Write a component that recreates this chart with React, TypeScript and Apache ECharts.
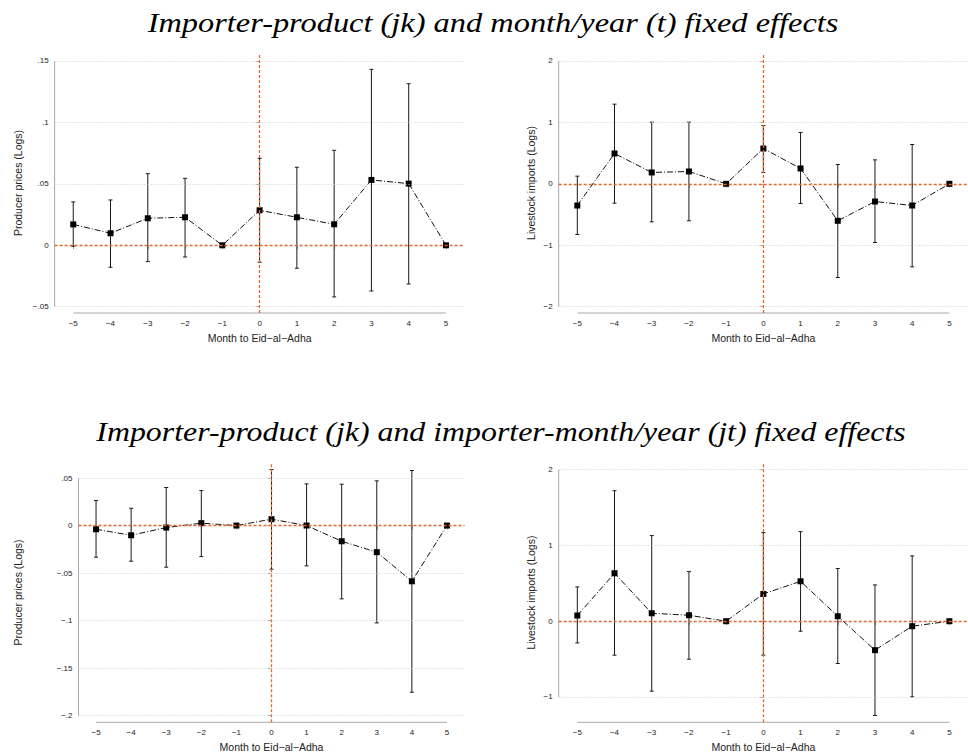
import React, { useEffect, useRef } from "react";
import * as echarts from "echarts";

// ---- Data ----
const months = [-5, -4, -3, -2, -1, 0, 1, 2, 3, 4, 5];

// Panel 1: jk + t FE, producer prices
const p1Coef = [0.017, 0.0098, 0.022, 0.0228, 0, 0.0285, 0.0228, 0.0171, 0.0532, 0.0502, 0];
const p1Lo = [-0.0008, -0.0179, -0.0133, -0.0095, null, -0.0138, -0.0187, -0.042, -0.0372, -0.0315, null];
const p1Hi = [0.0353, 0.0369, 0.0583, 0.0545, null, 0.0708, 0.0635, 0.0773, 0.1432, 0.1315, null];

// Panel 2: jk + t FE, livestock imports
const p2Coef = [-0.353, 0.494, 0.185, 0.201, 0, 0.575, 0.25, -0.602, -0.288, -0.353, 0];
const p2Lo = [-0.825, -0.315, -0.619, -0.602, null, 0.185, -0.32, -1.525, -0.955, -1.351, null];
const p2Hi = [0.125, 1.297, 1.004, 1.004, null, 0.95, 0.836, 0.315, 0.39, 0.64, null];

// Panel 3: jk + jt FE, producer prices
const p3Coef = [-0.0039, -0.0102, -0.0021, 0.0025, 0, 0.0067, 0, -0.0165, -0.028, -0.0586, 0];
const p3Lo = [-0.0333, -0.0375, -0.0438, -0.0326, null, -0.0459, -0.0424, -0.0771, -0.1024, -0.1753, null];
const p3Hi = [0.0263, 0.0182, 0.04, 0.0368, null, 0.0589, 0.0438, 0.0435, 0.047, 0.0579, null];

// Panel 4: jk + jt FE, livestock imports
const p4Coef = [0.075, 0.633, 0.105, 0.079, 0, 0.36, 0.527, 0.066, -0.382, -0.066, 0];
const p4Lo = [-0.286, -0.448, -0.923, -0.501, null, -0.448, -0.132, -0.558, -1.244, -0.998, null];
const p4Hi = [0.453, 1.723, 1.13, 0.655, null, 1.169, 1.182, 0.695, 0.479, 0.862, null];

const p1Ticks = [-0.05, 0, 0.05, 0.1, 0.15];
const p2Ticks = [-2, -1, 0, 1, 2];
const p3Ticks = [-0.2, -0.15, -0.1, -0.05, 0, 0.05];
const p4Ticks = [-1, 0, 1, 2];

const title1 = "Importer-product (jk) and month/year (t) fixed effects";
const title2 = "Importer-product (jk) and importer-month/year (jt) fixed effects";
const xName = "Month to Eid\u2212al\u2212Adha";
const yNamePrice = "Producer prices (Logs)";
const yNameImports = "Livestock imports (Logs)";

// ---- Styling ----
const ORANGE = "#e2692a";
const AXIS = "#a8a8a8";
const TEXT = "#222";
const SANS = "Liberation Sans, Arial, Helvetica, sans-serif";

function fmt(v: number): string {
  let s = String(Math.round(v * 1000) / 1000);
  s = s.replace(/^0\./, ".").replace(/^-0\./, "-.");
  return s.replace("-", "\u2212");
}

type PanelCfg = {
  coef: number[];
  lo: (number | null)[];
  hi: (number | null)[];
  ticks: number[];
  yMin: number;
  yMax: number;
  yName: string;
  nameGap: number;
  grid: { left: number; top: number; width: number; height: number };
};

function buildPanel(idx: number, c: PanelCfg) {
  const X_MIN = -5.5;
  const X_MAX = 5.5;
  const grid = { ...c.grid, containLabel: false };
  const xAxis = {
    type: "value",
    gridIndex: idx,
    min: X_MIN,
    max: X_MAX,
    axisLine: { show: false },
    axisTick: { show: true, length: 4, lineStyle: { color: AXIS, width: 1 }, customValues: months },
    axisLabel: { show: true, customValues: months, formatter: fmt, fontSize: 8, color: TEXT, fontFamily: SANS, margin: 6 },
    splitLine: { show: false },
    name: xName,
    nameLocation: "middle",
    nameGap: 19,
    nameTextStyle: { fontSize: 10.5, color: TEXT, fontFamily: SANS },
  };
  const yAxis = {
    type: "value",
    gridIndex: idx,
    min: c.yMin,
    max: c.yMax,
    axisLine: { show: false },
    axisTick: { show: true, length: 4, lineStyle: { color: AXIS, width: 1 }, customValues: c.ticks },
    axisLabel: { show: true, customValues: c.ticks, formatter: fmt, fontSize: 8, color: TEXT, fontFamily: SANS, margin: 6 },
    splitLine: { show: false },
    name: c.yName,
    nameLocation: "middle",
    nameGap: c.nameGap,
    nameTextStyle: { fontSize: 10.5, color: TEXT, fontFamily: SANS },
  };

  const tickMin = Math.min(...c.ticks);
  const tickMax = Math.max(...c.ticks);
  const yMin = c.yMin;

  const series: any[] = [
    // axes lines (Stata-style, detached ranges) + dotted gridlines
    {
      type: "custom",
      xAxisIndex: idx,
      yAxisIndex: idx,
      clip: false,
      silent: true,
      z: 1,
      data: [[0, 0]],
      renderItem: (params: any, api: any) => {
        const a = api.coord([X_MIN, tickMin]);
        const b = api.coord([X_MIN, tickMax]);
        const d = api.coord([-5, yMin]);
        const e = api.coord([5, yMin]);
        return {
          type: "group",
          children: [
            { type: "line", shape: { x1: a[0], y1: a[1], x2: b[0], y2: b[1] }, style: { stroke: AXIS, lineWidth: 1 } },
            { type: "line", shape: { x1: d[0], y1: d[1], x2: e[0], y2: e[1] }, style: { stroke: AXIS, lineWidth: 1 } },
          ],
        };
      },
      markLine: {
        silent: true,
        symbol: ["none", "none"],
        label: { show: false },
        lineStyle: { color: "#cfcfcf", type: [1, 2], width: 1 },
        data: c.ticks.filter((t) => t !== 0).map((t) => ({ yAxis: t })),
      },
    },
    // reference lines
    {
      type: "line",
      xAxisIndex: idx,
      yAxisIndex: idx,
      data: [],
      silent: true,
      z: 2,
      markLine: {
        silent: true,
        symbol: ["none", "none"],
        label: { show: false },
        lineStyle: { color: ORANGE, type: [3, 2], width: 1.3 },
        data: [{ yAxis: 0 }, { xAxis: 0 }],
      },
    },
    // error bars
    {
      type: "custom",
      xAxisIndex: idx,
      yAxisIndex: idx,
      z: 3,
      encode: { x: 0, y: [1, 2] },
      data: months
        .map((m, i) => (c.lo[i] == null || c.hi[i] == null ? null : [m, c.lo[i], c.hi[i]]))
        .filter((d) => d != null),
      renderItem: (params: any, api: any) => {
        const x = api.value(0);
        const lo = api.coord([x, api.value(1)]);
        const hi = api.coord([x, api.value(2)]);
        const cap = 2;
        const st = { stroke: "#1a1a1a", lineWidth: 1 };
        return {
          type: "group",
          children: [
            { type: "line", shape: { x1: lo[0], y1: lo[1], x2: hi[0], y2: hi[1] }, style: st },
            { type: "line", shape: { x1: lo[0] - cap, y1: lo[1], x2: lo[0] + cap, y2: lo[1] }, style: st },
            { type: "line", shape: { x1: hi[0] - cap, y1: hi[1], x2: hi[0] + cap, y2: hi[1] }, style: st },
          ],
        };
      },
    },
    // coefficients
    {
      type: "line",
      xAxisIndex: idx,
      yAxisIndex: idx,
      z: 4,
      data: months.map((m, i) => [m, c.coef[i]]),
      symbol: "rect",
      symbolSize: 6,
      itemStyle: { color: "#000" },
      lineStyle: { color: "#111", width: 1, type: [6, 2, 1, 2] },
    },
  ];
  return { grid, xAxis, yAxis, series };
}

export default function App() {
  const ref = useRef<HTMLDivElement>(null);
  useEffect(() => {
    if (!ref.current) return;
    const chart = echarts.init(ref.current, undefined, { renderer: "svg" });
    const panels = [
      buildPanel(0, {
        coef: p1Coef, lo: p1Lo, hi: p1Hi, ticks: p1Ticks,
        yMin: -0.0551, yMax: 0.1565, yName: yNamePrice, nameGap: 31,
        grid: { left: 54.6, top: 53, width: 410, height: 260 },
      }),
      buildPanel(1, {
        coef: p2Coef, lo: p2Lo, hi: p2Hi, ticks: p2Ticks,
        yMin: -2.103, yMax: 2.13, yName: yNameImports, nameGap: 22,
        grid: { left: 558.7, top: 53, width: 418, height: 260 },
      }),
      buildPanel(2, {
        coef: p3Coef, lo: p3Lo, hi: p3Hi, ticks: p3Ticks,
        yMin: -0.2069, yMax: 0.0661, yName: yNamePrice, nameGap: 55,
        grid: { left: 78.5, top: 462.7, width: 386, height: 259.6 },
      }),
      buildPanel(3, {
        coef: p4Coef, lo: p4Lo, hi: p4Hi, ticks: p4Ticks,
        yMin: -1.334, yMax: 2.092, yName: yNameImports, nameGap: 22,
        grid: { left: 558.7, top: 462.7, width: 418, height: 259.6 },
      }),
    ];
    const titleStyle = {
      fontFamily: "Liberation Serif, serif",
      fontStyle: "italic",
      fontSize: 27,
      fill: "#000",
      textAlign: "center",
      textVerticalAlign: "middle",
    };
    const option: any = {
      animation: false,
      backgroundColor: "#fff",
      grid: panels.map((p) => p.grid),
      xAxis: panels.map((p) => p.xAxis),
      yAxis: panels.map((p) => p.yAxis),
      series: panels.flatMap((p) => p.series),
      graphic: [
        { type: "text", x: 493, y: 22, scaleX: 1.2, style: { ...titleStyle, text: title1 } },
        { type: "text", x: 501, y: 432, scaleX: 1.18, style: { ...titleStyle, text: title2 } },
      ],
    };
    chart.setOption(option);
    return () => chart.dispose();
  }, []);
  return (
    <div
      ref={ref}
      style={{ position: "absolute", left: 0, top: 0, width: 968, height: 756, background: "#fff" }}
    />
  );
}
